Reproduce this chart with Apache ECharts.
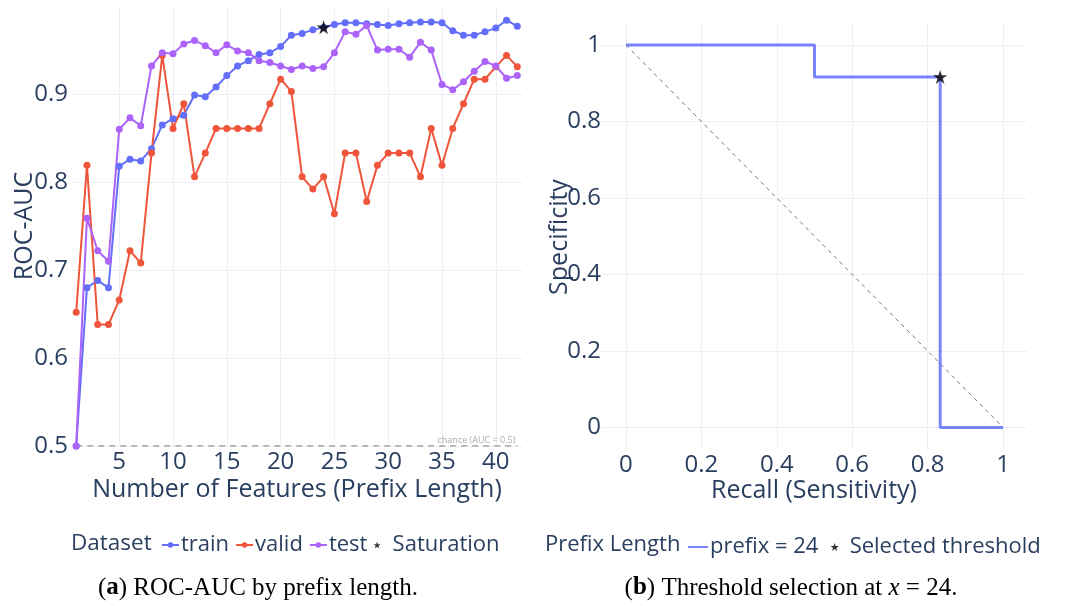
<!DOCTYPE html>
<html>
<head>
<meta charset="utf-8">
<script src="https://cdn.jsdelivr.net/npm/echarts@6/dist/echarts.min.js"></script>
<style>
  html, body { margin: 0; padding: 0; background: #fff; }
  #chart { width: 1070px; height: 606px; }
</style>
</head>
<body>
<div id="chart"></div>
<script>
// ---- Panel (a): ROC-AUC by prefix length ----
const prefixLengths = [1,2,3,4,5,6,7,8,9,10,11,12,13,14,15,16,17,18,19,20,21,
  22,23,24,25,26,27,28,29,30,31,32,33,34,35,36,37,38,39,40,41,42];
const trainAuc = [0.500,0.680,0.688,0.680,0.818,0.826,0.824,0.838,0.865,0.872,0.876,
  0.899,0.897,0.908,0.921,0.932,0.938,0.945,0.947,0.954,0.967,0.969,0.973,0.976,
  0.979,0.981,0.981,0.980,0.979,0.978,0.980,0.981,0.982,0.982,0.981,0.972,0.967,
  0.967,0.971,0.975,0.984,0.977];
const validAuc = [0.652,0.819,0.638,0.638,0.666,0.722,0.708,0.833,0.944,0.861,0.889,
  0.806,0.833,0.861,0.861,0.861,0.861,0.861,0.889,0.917,0.903,0.806,0.792,0.806,
  0.764,0.833,0.833,0.778,0.819,0.833,0.833,0.833,0.806,0.861,0.819,0.861,0.889,
  0.917,0.917,0.931,0.944,0.931];
const testAuc = [0.500,0.759,0.722,0.710,0.860,0.873,0.864,0.932,0.947,0.946,0.957,
  0.961,0.955,0.947,0.956,0.949,0.947,0.938,0.936,0.932,0.928,0.932,0.929,0.931,
  0.947,0.971,0.968,0.978,0.950,0.951,0.951,0.942,0.959,0.950,0.911,0.905,0.914,
  0.926,0.937,0.932,0.918,0.921];
const saturationPrefix = 24;
const chanceX = [1, 42];
const chanceAuc = 0.5;
const xTicksA = [5,10,15,20,25,30,35,40];
const yTicksA = [0.5,0.6,0.7,0.8,0.9];

// ---- Panel (b): threshold curve at prefix = 24 ----
const recall      = [0, 0.5, 0.5, 0.8333, 0.8333, 1];
const specificity = [1, 1, 0.9167, 0.9167, 0, 0];
const selectedRecall = 0.8333;
const selectedSpecificity = 0.9167;
const diagX = [0, 1];
const diagY = [1, 0];
const ticksB = [0, 0.2, 0.4, 0.6, 0.8, 1];

const TXT = '#2a3f5f';
const GRID = '#EBF0F8';
const FONT = 'Open Sans';
const TICK_SIZE = 24;
const LEGEND_SIZE = 22;
const TITLE_FONT = '25px "Open Sans"';
const STAR = 'path://M50,0 L61.2,34.5 L97.6,34.5 L68.2,55.9 L79.4,90.5 L50,69.1 L20.6,90.5 L31.8,55.9 L2.4,34.5 L38.8,34.5 Z';
const C_TRAIN = '#636efa', C_VALID = '#EF553B', C_TEST = '#ab63fa';

const zip = (xs, ys) => xs.map((x, i) => [x, ys[i]]);

function valueAxis(gridIndex, min, max, ticks, margin) {
  return {
    type: 'value', gridIndex, min, max,
    axisLine: { show: false },
    axisTick: { show: false, customValues: ticks },
    axisLabel: { customValues: ticks, color: TXT, fontFamily: FONT, fontSize: TICK_SIZE, margin },
    splitLine: { show: true, lineStyle: { color: GRID, width: 1 } }
  };
}

function lineSeries(name, ys, color) {
  return {
    name, type: 'line', xAxisIndex: 0, yAxisIndex: 0,
    data: zip(prefixLengths, ys),
    symbol: 'circle', symbolSize: 7, showSymbol: true,
    lineStyle: { color, width: 2 },
    itemStyle: { color },
    z: 3
  };
}

const satY = trainAuc[prefixLengths.indexOf(saturationPrefix)];

const legendText = (padLeft) => ({ color: TXT, fontFamily: FONT, fontSize: LEGEND_SIZE, padding: [0, 0, 0, padLeft] });

const option = {
  animation: false,
  backgroundColor: '#ffffff',
  grid: [
    { left: 72, top: 7, width: 451, height: 439 },
    { left: 602, top: 24, width: 425, height: 425 }
  ],
  xAxis: [
    valueAxis(0, 0.61, 42.53, xTicksA, 4),
    valueAxis(1, -0.0636, 1.0636, ticksB, 4)
  ],
  yAxis: [
    valueAxis(0, 0.5, 0.999, yTicksA, 4),
    valueAxis(1, -0.0565, 1.055, ticksB, 1)
  ],
  legend: [
    {
      left: 156, top: 529, orient: 'horizontal',
      itemWidth: 17, itemHeight: 7, itemGap: 6,
      textStyle: legendText(-3),
      data: [
        { name: 'train' }, { name: 'valid' }, { name: 'test' },
        { name: 'Saturation', icon: STAR, itemStyle: { color: '#000' }, textStyle: legendText(2) }
      ]
    },
    {
      left: 683, top: 531, orient: 'horizontal',
      itemWidth: 20, itemHeight: 8, itemGap: 12,
      textStyle: legendText(-3),
      data: [
        { name: 'prefix = 24', icon: 'path://M0,4 L20,4 L20,6 L0,6 Z' },
        { name: 'Selected threshold', icon: STAR, itemStyle: { color: '#000' }, textStyle: legendText(0) }
      ]
    }
  ],
  series: [
    {
      name: 'chance', type: 'line', xAxisIndex: 0, yAxisIndex: 0,
      data: zip(chanceX, [chanceAuc, chanceAuc]),
      symbol: 'none', silent: true,
      lineStyle: { color: '#999999', width: 1.5, type: [6, 5] },
      endLabel: {
        show: true, formatter: 'chance (AUC = 0.5)',
        align: 'right', verticalAlign: 'bottom', distance: 0, offset: [-2, -1],
        color: '#aaaaaa', fontFamily: FONT, fontSize: 9
      },
      z: 2
    },
    lineSeries('train', trainAuc, C_TRAIN),
    lineSeries('valid', validAuc, C_VALID),
    lineSeries('test', testAuc, C_TEST),
    {
      name: 'Saturation', type: 'scatter', xAxisIndex: 0, yAxisIndex: 0,
      data: [[saturationPrefix, satY]],
      symbol: STAR, symbolSize: 14,
      itemStyle: { color: '#000000' }, z: 5
    },
    {
      name: 'diagonal', type: 'line', xAxisIndex: 1, yAxisIndex: 1,
      data: zip(diagX, diagY), symbol: 'none', silent: true,
      lineStyle: { color: '#777777', width: 1, type: [4, 4] }, z: 2
    },
    {
      name: 'prefix = 24', type: 'line', xAxisIndex: 1, yAxisIndex: 1,
      data: zip(recall, specificity), symbol: 'none',
      lineStyle: { color: 'rgba(99,110,250,0.85)', width: 3 },
      itemStyle: { color: 'rgba(99,110,250,0.85)' }, z: 3
    },
    {
      name: 'Selected threshold', type: 'scatter', xAxisIndex: 1, yAxisIndex: 1,
      data: [[selectedRecall, selectedSpecificity]],
      symbol: STAR, symbolSize: 14,
      itemStyle: { color: '#000000' }, z: 5
    }
  ],
  graphic: [
    { type: 'text', x: 25, y: 226, rotation: Math.PI / 2,
      style: { text: 'ROC-AUC', fill: TXT, font: TITLE_FONT, align: 'center', verticalAlign: 'middle' } },
    { type: 'text', x: 297, y: 490,
      style: { text: 'Number of Features (Prefix Length)', fill: TXT, font: TITLE_FONT, align: 'center', verticalAlign: 'middle' } },
    { type: 'text', x: 560, y: 237, rotation: Math.PI / 2,
      style: { text: 'Specificity', fill: TXT, font: TITLE_FONT, align: 'center', verticalAlign: 'middle' } },
    { type: 'text', x: 814, y: 491,
      style: { text: 'Recall (Sensitivity)', fill: TXT, font: TITLE_FONT, align: 'center', verticalAlign: 'middle' } },
    { type: 'text', x: 71, y: 544,
      style: { text: 'Dataset', fill: TXT, font: '22.5px "Open Sans"', align: 'left', verticalAlign: 'middle' } },
    { type: 'text', x: 545, y: 545,
      style: { text: 'Prefix Length', fill: TXT, font: '22px "Open Sans"', align: 'left', verticalAlign: 'middle' } },
    { type: 'text', x: 258, y: 588,
      style: {
        text: '{n|(}{b|a}{n|) ROC-AUC by prefix length.}',
        align: 'center', verticalAlign: 'middle',
        rich: {
          n: { fill: '#000', font: '25px "Liberation Serif"' },
          b: { fill: '#000', font: 'bold 25px "Liberation Serif"' }
        }
      } },
    { type: 'text', x: 791, y: 588,
      style: {
        text: '{n|(}{b|b}{n|) Threshold selection at }{i|x}{n| = 24.}',
        align: 'center', verticalAlign: 'middle',
        rich: {
          n: { fill: '#000', font: '25px "Liberation Serif"' },
          b: { fill: '#000', font: 'bold 25px "Liberation Serif"' },
          i: { fill: '#000', font: 'italic 25px "Liberation Serif"' }
        }
      } }
  ]
};

const chart = echarts.init(document.getElementById('chart'), null, { renderer: 'canvas' });
chart.setOption(option);
</script>
</body>
</html>
